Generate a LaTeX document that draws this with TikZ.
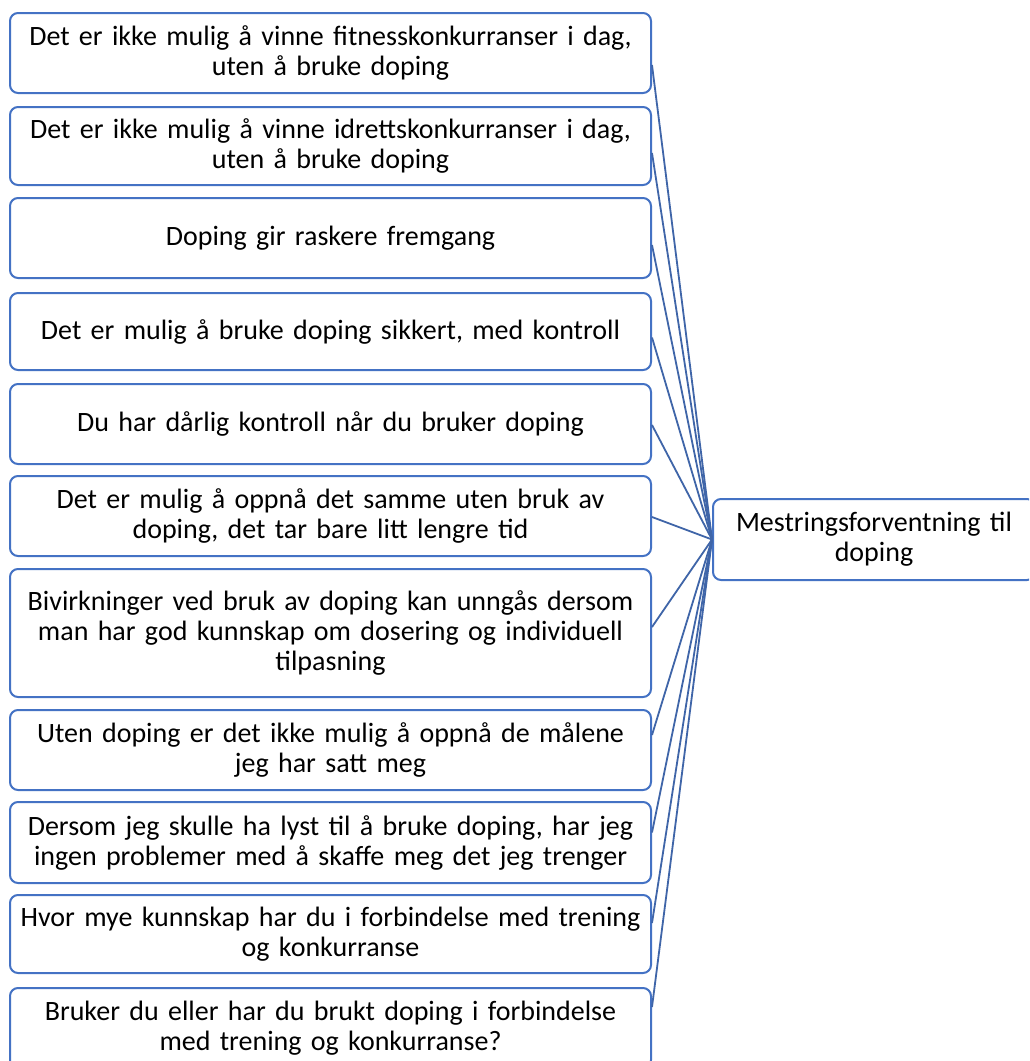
\documentclass[tikz,border=0pt]{standalone}
\usepackage{fontspec}
\setmainfont{Carlito}
\definecolor{boxblue}{HTML}{4472C4}
\definecolor{lineblue}{HTML}{3F65A8}
\tikzset{
  lbox/.style={draw=boxblue, line width=2pt, rounded corners=8pt, fill=white,
    minimum width=641pt, text width=641pt, align=center, inner sep=0pt,
    font=\fontsize{28pt}{30pt}\selectfont},
  rbox/.style={draw=boxblue, line width=2pt, rounded corners=8pt, fill=white,
    minimum width=322pt, minimum height=81pt, text width=322pt, align=center, inner sep=0pt,
    font=\fontsize{28pt}{30pt}\selectfont},
  conn/.style={draw=lineblue, line width=1.8pt}
}
\begin{document}
\begin{tikzpicture}[x=1pt,y=-1pt]
\useasboundingbox (0,0) rectangle (1029,1061);
\clip (0,0) rectangle (1029,1061);
\fill[white] (0,0) rectangle (1029,1061);
% right box
\node[rbox] (m) at (874,539.5) {Mestringsforventning til\\doping};
% left boxes
\node[lbox, minimum height=80pt] (b1) at (330.5,53) {Det er ikke mulig å vinne fitnesskonkurranser i dag,\\uten å bruke doping};
\node[lbox, minimum height=78pt] (b2) at (330.5,146) {Det er ikke mulig å vinne idrettskonkurranser i dag,\\uten å bruke doping};
\node[lbox, minimum height=80pt] (b3) at (330.5,238) {Doping gir raskere fremgang};
\node[lbox, minimum height=77pt] (b4) at (330.5,331.5) {Det er mulig å bruke doping sikkert, med kontroll};
\node[lbox, minimum height=80pt] (b5) at (330.5,424) {Du har dårlig kontroll når du bruker doping};
\node[lbox, minimum height=80pt] (b6) at (330.5,516) {Det er mulig å oppnå det samme uten bruk av\\doping, det tar bare litt lengre tid};
\node[lbox, minimum height=128pt] (b7) at (330.5,633) {Bivirkninger ved bruk av doping kan unngås dersom\\man har god kunnskap om dosering og individuell\\tilpasning};
\node[lbox, minimum height=80pt] (b8) at (330.5,750) {Uten doping er det ikke mulig å oppnå de målene\\jeg har satt meg};
\node[lbox, minimum height=81pt] (b9) at (330.5,842.5) {Dersom jeg skulle ha lyst til å bruke doping, har jeg\\ingen problemer med å skaffe meg det jeg trenger};
\node[lbox, minimum height=78pt] (b10) at (330.5,934) {Hvor mye kunnskap har du i forbindelse med trening\\og konkurranse};
\node[lbox, minimum height=80pt] (b11) at (330.5,1028) {Bruker du eller har du brukt doping i forbindelse\\med trening og konkurranse?};
% connectors
\draw[conn] ([yshift=-12pt]b1.east) -- (m.west);
\draw[conn] ([yshift=-7pt]b2.east) -- (m.west);
\draw[conn] ([yshift=-7pt]b3.east) -- (m.west);
\draw[conn] ([yshift=-6pt]b4.east) -- (m.west);
\draw[conn] ([yshift=-1pt]b5.east) -- (m.west);
\draw[conn] ([yshift=-1pt]b6.east) -- (m.west);
\draw[conn] ([yshift=6pt]b7.east) -- (m.west);
\draw[conn] ([yshift=15pt]b8.east) -- (m.west);
\draw[conn] ([yshift=10pt]b9.east) -- (m.west);
\draw[conn] ([yshift=11pt]b10.east) -- (m.west);
\draw[conn] ([yshift=21pt]b11.east) -- (m.west);
\end{tikzpicture}
\end{document}
